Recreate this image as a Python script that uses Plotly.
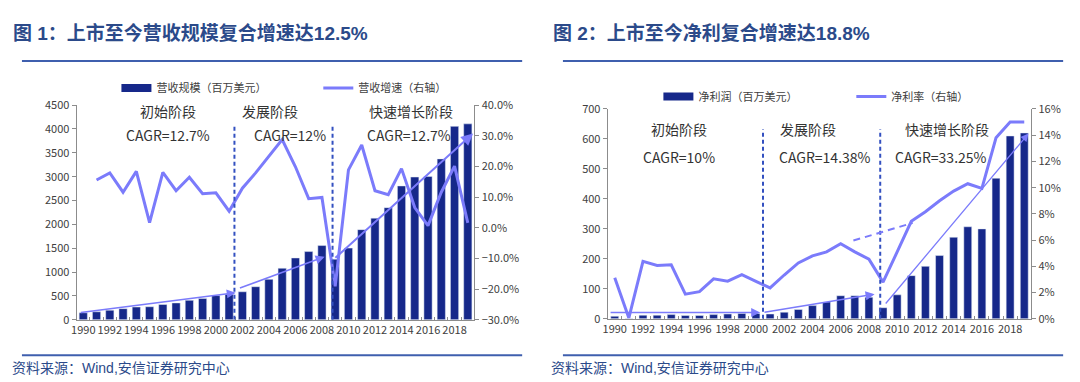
import plotly.graph_objects as go

# ---------------- data ----------------
years = list(range(1990, 2020))
revenue = [147, 167, 200, 233, 267, 273, 320, 353, 407, 447, 507, 533, 587, 693, 847,
           1080, 1296, 1430, 1556, 1270, 1503, 1890, 2131, 2351, 2806, 2993, 3006, 3373, 4055, 4108]
revenue_growth = [None, 15.6, 17.9, 11.6, 18.4, 1.7, 18.1, 12.1, 16.5, 11.1, 11.4, 5.4, 12.9, 17.9, 23.3,
                  28.8, 19.9, 9.5, 9.9, -19.1, 18.9, 27.0, 12.1, 10.8, 19.3, 6.6, 0.7, 11.6, 20.1, 1.6]
net_profit = [8.5, 1, 12, 12, 14, 11, 11, 14, 16, 18, 18, 16, 22, 31, 44,
              56, 77, 77, 72, 37, 80, 144, 175, 211, 272, 307, 300, 469, 610, 620]
net_margin = [3.14, 0.07, 4.38, 4.07, 4.12, 1.88, 2.07, 3.05, 2.87, 3.36, 2.85, 2.36, 3.34, 4.26, 4.80,
              5.1, 5.72, 5.1, 4.55, 2.8, 5.1, 7.43, 8.16, 9.0, 9.74, 10.3, 9.94, 13.8, 15.0, 15.0]
xtick_years = list(range(1990, 2019, 2))

title1 = "图 1：上市至今营收规模复合增速达12.5%"
title2 = "图 2：上市至今净利复合增速达18.8%"
source = "资料来源：Wind,安信证券研究中心"
stages = ["初始阶段", "发展阶段", "快速增长阶段"]
cagr1 = ["CAGR=12.7%", "CAGR=12%", "CAGR=12.7%"]
cagr2 = ["CAGR=10%", "CAGR=14.38%", "CAGR=33.25%"]

NAVY = "#16288A"
LINE = "#7B7BFB"
DASHV = "#3350C0"
TITLE_C = "#2B4A8A"
RULE_C = "#3F5FAE"
TXT = "#404040"
AX = "#8C8C8C"
CJK = "Noto Sans CJK SC"

W, H = 1080, 382
def px(x):
    return x / W
def py(y):
    return 1 - y / H

fig = go.Figure()

# ---------- left chart ----------
fig.add_trace(go.Bar(x=years, y=revenue, marker_color=NAVY, width=0.62,
                     xaxis="x", yaxis="y", showlegend=False))
fig.add_trace(go.Scatter(x=years, y=revenue_growth, mode="lines", line=dict(color=LINE, width=3),
                         xaxis="x", yaxis="y2", showlegend=True, name="营收增速（右轴）", legend="legend2"))
fig.add_trace(go.Scatter(x=[None], y=[None], mode="lines", line=dict(color=NAVY, width=8),
                         xaxis="x", yaxis="y", name="营收规模（百万美元）", legend="legend"))

# ---------- right chart ----------
fig.add_trace(go.Bar(x=years, y=net_profit, marker_color=NAVY, width=0.56,
                     xaxis="x3", yaxis="y3", showlegend=False))
fig.add_trace(go.Scatter(x=years, y=net_margin, mode="lines", line=dict(color=LINE, width=3),
                         xaxis="x3", yaxis="y4", name="净利率（右轴）", legend="legend4"))
fig.add_trace(go.Scatter(x=[None], y=[None], mode="lines", line=dict(color=NAVY, width=8),
                         xaxis="x3", yaxis="y3", name="净利润（百万美元）", legend="legend3"))

tickfont = dict(family=CJK, size=11, color=TXT)
xcommon = dict(range=[1989.5, 2019.5], tickmode="array", tickvals=xtick_years,
               ticktext=[str(y) for y in xtick_years], showgrid=False, zeroline=False,
               showline=True, linecolor=AX, linewidth=1, ticks="", tickfont=dict(family=CJK, size=11, color=TXT),
               minor=dict(ticks="inside", tick0=1989.5, dtick=1, ticklen=3, tickcolor=AX, showgrid=False))
ycommon = dict(showgrid=False, zeroline=False, showline=True, linecolor=AX, linewidth=1,
               ticks="outside", ticklen=4, tickcolor=AX, tickfont=tickfont)

L_dom_x = [px(63), px(463)]
L_dom_y = [py(316), py(92)]
R_dom_x = [px(597), px(1023)]
R_dom_y = [py(315), py(96)]

fig.update_layout(
    width=W, height=H, margin=dict(l=0, r=0, t=0, b=0),
    paper_bgcolor="white", plot_bgcolor="white", bargap=0.4,
    xaxis=dict(domain=L_dom_x, anchor="y", **xcommon),
    yaxis=dict(domain=L_dom_y, anchor="x", range=[0, 4500], dtick=500, **ycommon),
    yaxis2=dict(overlaying="y", side="right", anchor="x", range=[-30, 40], dtick=10,
                tickformat=".1f", ticksuffix="%", **ycommon),
    xaxis3=dict(domain=R_dom_x, anchor="y3", **xcommon),
    yaxis3=dict(domain=R_dom_y, anchor="x3", range=[0, 700], dtick=100, **ycommon),
    yaxis4=dict(overlaying="y3", side="right", anchor="x3", range=[0, 16], dtick=2,
                ticksuffix="%", **ycommon),
)

legfont = dict(family=CJK, size=11, color=TXT)
def leg(x, y):
    return dict(x=px(x), y=py(y), xanchor="left", yanchor="middle", orientation="h",
                font=legfont, bgcolor="rgba(0,0,0,0)", itemwidth=30, tracegroupgap=0)
fig.update_layout(legend=leg(103, 74), legend2=leg(306, 74),
                  legend3=leg(648, 83), legend4=leg(842, 83))

ann = []
# titles
tfont = dict(family="Liberation Sans, " + CJK, size=19, color=TITLE_C)
ann.append(dict(text=f"<b>{title1}</b>", x=px(-3), y=py(17), xref="paper", yref="paper",
                xanchor="left", yanchor="middle", showarrow=False, font=tfont))
ann.append(dict(text=f"<b>{title2}</b>", x=px(540), y=py(17), xref="paper", yref="paper",
                xanchor="left", yanchor="middle", showarrow=False, font=tfont))
for sx in (-4, 538):
    ann.append(dict(text=source, x=px(sx), y=py(366), xref="paper", yref="paper",
                    xanchor="left", yanchor="middle", showarrow=False,
                    font=dict(family="Liberation Sans, " + CJK, size=14, color=TITLE_C)))

# stage labels, left chart (data coords)
stage_pos_L = [(1996.4, 2004.1, 2014.7), (4380, 3875)]
cagr_x_L = (1996.4, 2005.6, 2014.6)
for i in range(3):
    ann.append(dict(text=stages[i], x=stage_pos_L[0][i], y=stage_pos_L[1][0], xref="x", yref="y",
                    showarrow=False, font=dict(family=CJK, size=14, color="#333333")))
    ann.append(dict(text=cagr1[i], x=cagr_x_L[i], y=stage_pos_L[1][1], xref="x", yref="y",
                    showarrow=False, font=dict(family=CJK, size=14, color="#333333")))
stage_x_R = (1994.56, 2003.7, 2013.5)
cagr_x_R = (1994.56, 2004.9, 2013.1)
for i in range(3):
    ann.append(dict(text=stages[i], x=stage_x_R[i], y=632, xref="x3", yref="y3",
                    showarrow=False, font=dict(family=CJK, size=14, color="#333333")))
    ann.append(dict(text=cagr2[i], x=cagr_x_R[i], y=540, xref="x3", yref="y3",
                    showarrow=False, font=dict(family=CJK, size=14, color="#333333")))

# trend arrows
arrows_L = [((1989.7, 147), (2001.5, 567), 1.5), ((2001.7, 653), (2008.2, 1323), 1.5),
            ((2008.9, 1270), (2019.4, 3908), 2)]
for (x0, y0), (x1, y1), w in arrows_L:
    ann.append(dict(x=x1, y=y1, ax=x0, ay=y0, xref="x", yref="y", axref="x", ayref="y",
                    text="", showarrow=True, arrowhead=2, arrowsize=1.2, arrowwidth=w, arrowcolor=LINE))
arrows_R = [((1989.6, 21), (2000.3, 21), 1.5), ((2000.5, 21), (2008.4, 82), 1.5),
            ((2009.1, 46), (2019.3, 618), 1.3)]
for (x0, y0), (x1, y1), w in arrows_R:
    ann.append(dict(x=x1, y=y1, ax=x0, ay=y0, xref="x3", yref="y3", axref="x3", ayref="y3",
                    text="", showarrow=True, arrowhead=2, arrowsize=1.2, arrowwidth=w, arrowcolor=LINE))
fig.update_layout(annotations=ann)

shapes = []
# rules
for x0, x1 in ((8, 511), (552, 1055)):
    for yy in (46, 353):
        shapes.append(dict(type="line", xref="paper", yref="paper", x0=px(x0), x1=px(x1),
                           y0=py(yy), y1=py(yy), line=dict(color=RULE_C, width=2)))
# stage dividers
for xv in (2001.4, 2008.8):
    shapes.append(dict(type="line", xref="x", yref="y", x0=xv, x1=xv, y0=0, y1=4096,
                       line=dict(color=DASHV, width=2, dash="4px,3px")))
for xv in (2000.5, 2008.8):
    shapes.append(dict(type="line", xref="x3", yref="y3", x0=xv, x1=xv, y0=0, y1=632,
                       line=dict(color=DASHV, width=2, dash="4px,3px")))
# dashed margin trend
shapes.append(dict(type="line", xref="x3", yref="y3", x0=2006.9, x1=2011.1, y0=261, y1=320,
                   line=dict(color=LINE, width=2, dash="7px,5px")))
fig.update_layout(shapes=shapes)

fig.write_html("out.html")
